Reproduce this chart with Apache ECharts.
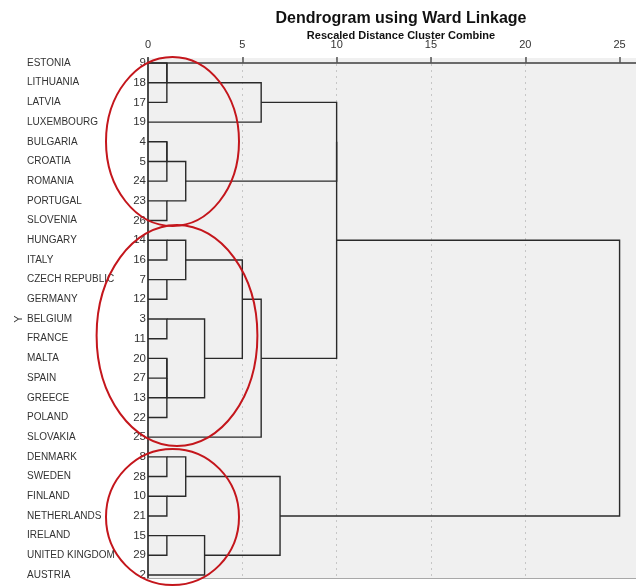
<!DOCTYPE html>
<html>
<head>
<meta charset="utf-8">
<script src="https://cdn.jsdelivr.net/npm/echarts@6/dist/echarts.min.js"></script>
<style>
  html, body { margin: 0; padding: 0; background: #ffffff; }
  #chart { width: 636px; height: 586px; }
</style>
</head>
<body>
<div id="chart"></div>
<script>
// Leaves in dendrogram order, with their case numbers
const countries = ['ESTONIA', 'LITHUANIA', 'LATVIA', 'LUXEMBOURG', 'BULGARIA', 'CROATIA', 'ROMANIA',
  'PORTUGAL', 'SLOVENIA', 'HUNGARY', 'ITALY', 'CZECH REPUBLIC', 'GERMANY', 'BELGIUM', 'FRANCE',
  'MALTA', 'SPAIN', 'GREECE', 'POLAND', 'SLOVAKIA', 'DENMARK', 'SWEDEN', 'FINLAND', 'NETHERLANDS',
  'IRELAND', 'UNITED KINGDOM', 'AUSTRIA'];
const caseIds = [9, 18, 17, 19, 4, 5, 24, 23, 26, 14, 16, 7, 12, 3, 11, 20, 27, 13, 22, 25, 8, 28, 10, 21, 15, 29, 2];

// Agglomeration schedule: ids below 27 are leaves (row order),
// id 27 + k is the cluster formed at step k
const mergeFirst  = [0, 27, 4, 29, 7, 9, 11, 13, 15, 35, 36, 20, 22, 24, 30, 32, 38, 34, 40, 42, 28, 46, 43, 47, 50, 51];
const mergeSecond = [1, 2, 5, 6, 8, 10, 12, 14, 16, 17, 18, 21, 23, 25, 31, 33, 39, 37, 26, 44, 3, 19, 45, 41, 48, 49];
const mergeDist   = [1, 1, 1, 1, 1, 1, 1, 1, 1, 1, 1, 1, 1, 1, 2, 2, 2, 3, 3, 5, 6, 6, 7, 10, 10, 25];

const xTicks = [0, 5, 10, 15, 20, 25];

// Each cluster is drawn on the row midway between its two children (rounded up the list)
const N = countries.length;
const rowOf = [], levelOf = [];
for (let i = 0; i < N; i++) { rowOf[i] = i; levelOf[i] = 0; }
const links = mergeDist.map(function (d, k) {
  const a = mergeFirst[k], b = mergeSecond[k];
  rowOf[N + k] = Math.floor((rowOf[a] + rowOf[b]) / 2);
  levelOf[N + k] = d;
  return [d, rowOf[a], rowOf[b], levelOf[a], levelOf[b]];
});

const FONT = '"Liberation Sans", Arial, sans-serif';
const chart = echarts.init(document.getElementById('chart'), null, { renderer: 'canvas' });

chart.setOption({
  backgroundColor: '#ffffff',
  animation: false,
  title: [
    {
      text: 'Dendrogram using Ward Linkage',
      left: 396, top: 6, textAlign: 'center',
      textStyle: { fontFamily: FONT, fontSize: 16, fontWeight: 'bold', color: '#111' }
    },
    {
      text: 'Rescaled Distance Cluster Combine',
      left: 396, top: 25, textAlign: 'center',
      textStyle: { fontFamily: FONT, fontSize: 11, fontWeight: 'bold', color: '#111' }
    }
  ],
  grid: [
    { left: 148, right: 0, top: 58, bottom: 8, show: true, backgroundColor: '#f0f0f0', borderWidth: 0 },
    { left: 148, right: 0, top: 53.15, height: 531.7, show: false }
  ],
  xAxis: [
    {
      gridIndex: 0, type: 'value', position: 'top', min: 0, max: 25.87, interval: 5,
      axisLine: { show: true, lineStyle: { color: '#6a6a6a', width: 2 } },
      axisTick: { show: true, length: 6, customValues: xTicks, lineStyle: { color: '#555', width: 1.5 } },
      axisLabel: {
        margin: 8, color: '#333', fontSize: 11, fontFamily: FONT, customValues: xTicks,
        formatter: function (v) { return xTicks.indexOf(v) >= 0 ? String(v) : ''; }
      },
      splitLine: { show: true, showMinLine: false, showMaxLine: false,
        lineStyle: { color: '#c6c6c6', width: 1, type: [2, 4] } }
    },
    {
      gridIndex: 0, type: 'value', position: 'bottom', min: 0, max: 25.87,
      axisLine: { show: true, lineStyle: { color: '#a8a8a8', width: 1 } },
      axisTick: { show: false }, axisLabel: { show: false }, splitLine: { show: false }
    },
    { gridIndex: 1, type: 'value', show: false, min: 0, max: 25.87 }
  ],
  yAxis: [
    {
      gridIndex: 0, type: 'value', inverse: true, min: -0.254, max: 26.152, position: 'left',
      axisLine: { show: true, lineStyle: { color: '#4a4a4a', width: 2 } },
      axisTick: { show: false }, axisLabel: { show: false }, splitLine: { show: false }
    },
    {
      gridIndex: 1, type: 'category', inverse: true, data: countries, position: 'left',
      name: 'Y', nameLocation: 'middle', nameRotate: 90, nameGap: 124, nameMoveOverlap: false,
      nameTextStyle: { fontFamily: FONT, fontSize: 11, color: '#333' },
      axisLine: { show: false }, axisTick: { show: false }, splitLine: { show: false },
      axisLabel: {
        interval: 0, margin: 2,
        formatter: function (name, i) { return '{n|' + name + '}{c|' + caseIds[i] + '}'; },
        rich: {
          n: { width: 93, align: 'left', fontFamily: FONT, fontSize: 10, color: '#333' },
          c: { width: 26, align: 'right', fontFamily: FONT, fontSize: 11.5, color: '#333' }
        }
      }
    }
  ],
  series: [{
    type: 'custom',
    xAxisIndex: 0, yAxisIndex: 0,
    data: links,
    encode: { x: [0, 3, 4], y: [1, 2] },
    renderItem: function (params, api) {
      const d = api.value(0), ya = api.value(1), yb = api.value(2);
      const ha = api.value(3), hb = api.value(4);
      return {
        type: 'polyline',
        shape: { points: [api.coord([ha, ya]), api.coord([d, ya]), api.coord([d, yb]), api.coord([hb, yb])] },
        style: { stroke: '#2a2a2a', lineWidth: 1.4, fill: null }
      };
    }
  }],
  graphic: [
    { type: 'ellipse', z: 100, shape: { cx: 172.5, cy: 141.5, rx: 66.5, ry: 84.5 },
      style: { fill: null, stroke: '#c4161c', lineWidth: 2 } },
    { type: 'ellipse', z: 100, shape: { cx: 177, cy: 335.5, rx: 80.4, ry: 110.5 },
      style: { fill: null, stroke: '#c4161c', lineWidth: 2 } },
    { type: 'ellipse', z: 100, shape: { cx: 172.5, cy: 517, rx: 66.5, ry: 68 },
      style: { fill: null, stroke: '#c4161c', lineWidth: 2 } }
  ]
});
</script>
</body>
</html>
